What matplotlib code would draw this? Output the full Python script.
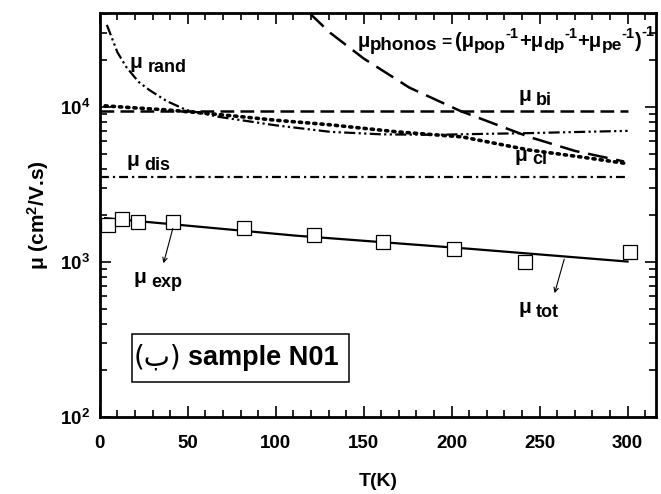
import numpy as np
import matplotlib
matplotlib.use('Agg')
from matplotlib import pyplot as plt
from matplotlib.patches import Rectangle

plt.rcParams['font.family'] = ['Liberation Sans', 'DejaVu Sans']
plt.rcParams['font.weight'] = 'bold'
plt.rcParams['mathtext.fontset'] = 'custom'
plt.rcParams['mathtext.rm'] = 'Liberation Sans:bold'
plt.rcParams['mathtext.it'] = 'Liberation Sans:bold'
plt.rcParams['mathtext.bf'] = 'Liberation Sans:bold'

# experimental points
T_exp = [4.7, 12.7, 21.9, 41.5, 81.9, 121.9, 161, 201.3, 241.5, 301.5]
mu_exp = [1733, 1885, 1803, 1803, 1665, 1493, 1340, 1208, 1005, 1166]

# computed mobilities
T_tot = [3, 41, 111, 211, 300]
mu_tot = [1915, 1750, 1478, 1213, 1005]

T_flat = [0, 300]
mu_bi = [9400, 9400]
mu_dis = [3530, 3530]

T_ph = [119, 131, 150, 176, 205, 244, 270, 298]
mu_ph = [40400, 30000, 20500, 13300, 9400, 6400, 5200, 4440]

T_rand = [4, 10, 15, 22, 28, 38, 49, 68, 100, 131, 160, 190, 220, 244, 270, 300]
mu_rand = [33800, 22500, 18100, 14500, 12870, 10900, 9560, 8610, 7600, 6900, 6650, 6600, 6700, 6770, 6880, 7000]

T_cl = [3, 20, 38, 57, 76, 100, 131, 169, 206, 244, 273, 300]
mu_cl = [10150, 9850, 9560, 9150, 8740, 8200, 7660, 6900, 6400, 5270, 4760, 4300]

fig = plt.figure(figsize=(6.61, 4.94), dpi=100)
ax = fig.add_axes([0.151, 0.156, 0.841, 0.818])

ax.plot(T_tot, mu_tot, color='black', lw=1.6)
ax.plot(T_exp, mu_exp, ls='none', marker='s', ms=10, mfc='white', mec='black', mew=0.9)
ax.plot(T_flat, mu_bi, color='black', lw=1.8, dashes=(5.5, 2.5))
ax.plot(T_flat, mu_dis, color='black', lw=1.6, dashes=(4, 1.8, 1, 1.8))
ax.plot(T_ph, mu_ph, color='black', lw=1.8, dashes=(8, 3.5))
ax.plot(T_rand, mu_rand, color='black', lw=1.6, dashes=(5, 1.5, 1, 1.5, 1, 1.5))
ax.plot(T_cl, mu_cl, color='black', lw=2.6, ls=(0, (0.6, 1.4)), dash_capstyle='round')

ax.set_yscale('log')
ax.set_xlim(0, 316)
ax.set_ylim(100, 40400)
ax.set_xticks([0, 50, 100, 150, 200, 250, 300])
ax.set_xticks(np.arange(10, 316, 10), minor=True)
ax.tick_params(which='both', direction='in', top=True, right=True, labelsize=13.5, width=1.2)
ax.tick_params(which='major', length=8)
ax.tick_params(axis='x', which='major', pad=13)
ax.tick_params(axis='y', which='major', pad=7)
ax.tick_params(which='minor', length=5)
for s in ax.spines.values():
    s.set_linewidth(2)
for lab in ax.get_xticklabels() + ax.get_yticklabels():
    lab.set_fontweight('bold')

ax.set_xlabel('T(K)', fontsize=14, fontweight='bold', labelpad=15)
ax.set_ylabel('\u03bc (cm$^{2}$/V.s)', fontsize=15, fontweight='bold', labelpad=6)

renderer = fig.canvas.get_renderer()


def chain(x, y, parts):
    # lay text pieces one after another from a data point; a number is a gap in points
    dx = 0
    for p in parts:
        if not isinstance(p, tuple):
            dx += p
            continue
        s, size, dy = p
        t = ax.annotate(s, xy=(x, y), xytext=(dx, dy), textcoords='offset points',
                        fontsize=size, fontweight='bold', va='baseline')
        dx += t.get_window_extent(renderer).width * 72 / fig.dpi


def mu_label(x, y, sub):
    chain(x, y, [('\u03bc', 15, 0), 3.5, (sub, 13, -2.5)])


mu_label(17, 17800, 'rand')
mu_label(15.4, 4150, 'dis')
mu_label(238, 10900, 'bi')
mu_label(236, 4500, 'cl')
mu_label(19, 730, 'exp')
mu_label(238, 465, 'tot')

m = '\u03bc'
chain(146.7, 24400, [(m, 14.5, 0), ('phonos', 13.5, -2), 2.5, ('=', 12.5, 0), 2.5, ('(' + m, 14.5, 0),
                     ('pop', 12.5, -2.5), ('-1', 10.5, 6.5), ('+' + m, 14.5, 0), ('dp', 12.5, -2.5),
                     ('-1', 10.5, 6.5), ('+' + m, 14.5, 0), ('pe', 12.5, -2.5), ('-1', 10.5, 6.5),
                     (')', 14.5, 0), ('-1', 10.5, 7.5)])

ax.annotate('', xy=(35.8, 942), xytext=(41.9, 1709),
            arrowprops=dict(arrowstyle='->', color='black', lw=0.8, mutation_scale=8))
ax.annotate('', xy=(258.1, 604), xytext=(264.4, 1082),
            arrowprops=dict(arrowstyle='->', color='black', lw=0.8, mutation_scale=8))

ax.add_patch(Rectangle((18.3, 168), 123.2, 175, fill=False, ec='black', lw=1.1))
ax.text(19.5, 240, '(\u0628)', fontsize=20, fontweight='normal', va='center',
        family=['DejaVu Sans'])
ax.text(50.3, 240, 'sample N01', fontsize=19.5, fontweight='bold', va='center')

fig.savefig('out.png', dpi=100)
